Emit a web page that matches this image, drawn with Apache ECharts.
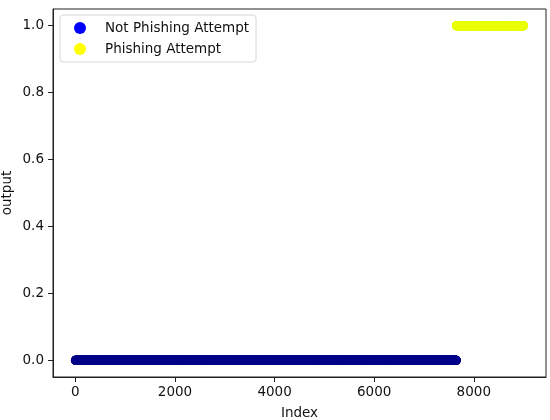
<!DOCTYPE html>
<html>
<head>
<meta charset="utf-8">
<script src="https://cdn.jsdelivr.net/npm/echarts@6/dist/echarts.min.js"></script>
<style>html,body{margin:0;padding:0;background:#fff}#c{width:550px;height:420px}</style>
</head>
<body>
<div id="c"></div>
<script>
// Data: rows are indexed 0..N-1, sorted by output class
const seriesNames = ['Not Phishing Attempt', 'Phishing Attempt'];
const notPhishingIndexRange = [0, 7649];   // output = 0
const phishingIndexRange = [7650, 8999];   // output = 1
const notPhishingOutput = 0;
const phishingOutput = 1;
const xTickValues = [0, 2000, 4000, 6000, 8000];
const yTickValues = [0, 0.2, 0.4, 0.6, 0.8, 1.0];

function rows(range, out) {
  const pts = [];
  for (let i = range[0]; i <= range[1]; i++) pts.push([i, out]);
  return pts;
}

const font = 'DejaVu Sans';
const fs = 13.5;
const chart = echarts.init(document.getElementById('c'), null, {renderer: 'canvas'});
chart.setOption({
  animation: false,
  backgroundColor: '#fff',
  textStyle: {fontFamily: font},
  grid: {left: 53, right: 4, top: 9, bottom: 43, containLabel: false, outerBoundsMode: 'none',
         show: true, borderColor: '#222', borderWidth: 1, backgroundColor: 'transparent'},
  legend: {
    orient: 'vertical', left: 60, top: 15,
    padding: [6, 7, 6, 14], itemGap: 7, itemWidth: 24, itemHeight: 12,
    icon: 'circle',
    backgroundColor: '#fff', borderColor: '#d6d6d6', borderWidth: 1, borderRadius: 3,
    textStyle: {fontFamily: font, fontSize: fs, color: '#111', padding: [0, 0, 0, 8]},
    data: [
      {name: seriesNames[0], itemStyle: {color: '#0000ff'}},
      {name: seriesNames[1], itemStyle: {color: '#ffff00'}}
    ]
  },
  xAxis: {
    type: 'value', min: -450, max: 9450,
    name: 'Index', nameLocation: 'middle', nameGap: 29, nameMoveOverlap: false,
    nameTextStyle: {fontFamily: font, fontSize: fs, color: '#111'},
    axisLine: {show: true, onZero: false, lineStyle: {color: '#222'}},
    axisTick: {show: true, length: 5, lineStyle: {color: '#222'}, customValues: xTickValues},
    axisLabel: {fontFamily: font, fontSize: fs, color: '#111', margin: 8, customValues: xTickValues,
      formatter: v => String(Math.round(v))},
    splitLine: {show: false}
  },
  yAxis: {
    type: 'value', min: -0.05, max: 1.05,
    name: 'output', nameLocation: 'middle', nameGap: 39, nameRotate: 90, nameMoveOverlap: false,
    nameTextStyle: {fontFamily: font, fontSize: fs, color: '#111'},
    axisLine: {show: true, onZero: false, lineStyle: {color: '#222'}},
    axisTick: {show: true, length: 5, lineStyle: {color: '#222'}, customValues: yTickValues},
    axisLabel: {fontFamily: font, fontSize: fs, color: '#111', margin: 9, customValues: yTickValues,
      formatter: v => v.toFixed(1)},
    splitLine: {show: false}
  },
  series: [
    {name: seriesNames[0], type: 'scatter', symbol: 'circle', symbolSize: 9,
     itemStyle: {color: '#00008b', opacity: 1}, data: rows(notPhishingIndexRange, notPhishingOutput)},
    {name: seriesNames[1], type: 'scatter', symbol: 'circle', symbolSize: 9,
     itemStyle: {color: '#eaff00', opacity: 1}, data: rows(phishingIndexRange, phishingOutput)}
  ]
});
</script>
</body>
</html>
